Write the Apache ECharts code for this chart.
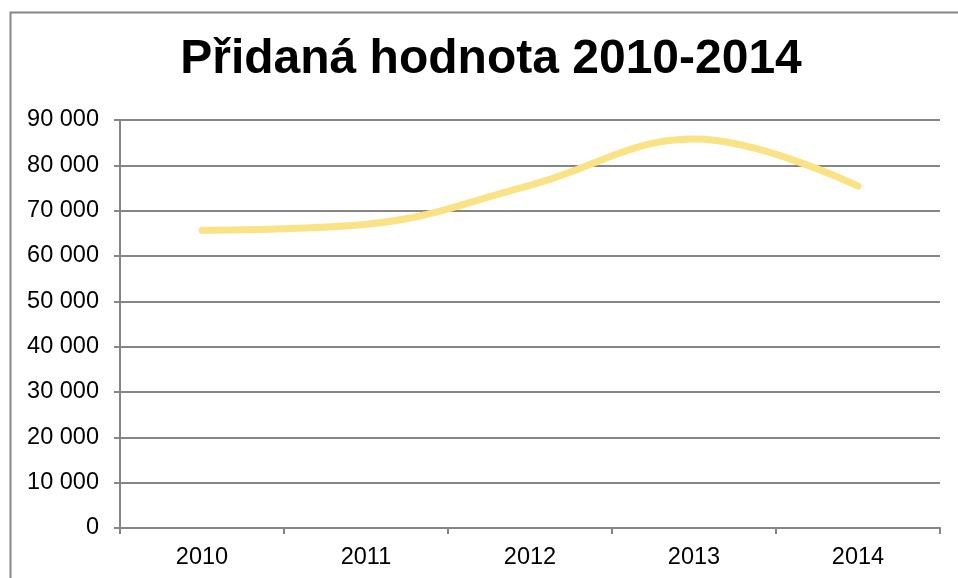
<!DOCTYPE html>
<html>
<head>
<meta charset="utf-8">
<script src="https://cdn.jsdelivr.net/npm/echarts@6/dist/echarts.min.js"></script>
<style>
  html, body { margin: 0; padding: 0; background: #fff; }
  #chart { width: 958px; height: 578px; }
</style>
</head>
<body>
<div id="chart"></div>
<script>
const titleText = 'Přidaná hodnota 2010-2014';
const years = ['2010', '2011', '2012', '2013', '2014'];
const addedValue = [65700, 67000, 75600, 85800, 75400];

const gray = '#868686';
const font = '"Liberation Sans", Arial, sans-serif';

const chart = echarts.init(document.getElementById('chart'));
chart.setOption({
    backgroundColor: '#fff',
    animation: false,
    title: {
        text: titleText,
        left: 486,
        textAlign: 'center',
        top: 31,
        textStyle: {
            fontFamily: font,
            fontSize: 48,
            fontWeight: 'bold',
            color: '#000'
        }
    },
    // outer chart frame
    graphic: [{
        type: 'rect',
        left: 8,
        top: 10,
        shape: {width: 970, height: 600},
        style: {fill: 'none', stroke: gray, lineWidth: 2},
        silent: true
    }],
    grid: {left: 120, right: 18, top: 120, bottom: 50},
    xAxis: {
        type: 'category',
        data: years,
        boundaryGap: true,
        axisLine: {lineStyle: {color: gray, width: 2}},
        axisTick: {show: true, length: 6, lineStyle: {color: gray, width: 2}},
        axisLabel: {margin: 18, color: '#000', fontFamily: font, fontSize: 23.5}
    },
    yAxis: {
        type: 'value',
        min: 0,
        max: 90000,
        interval: 10000,
        axisLine: {show: true, lineStyle: {color: gray, width: 2}},
        axisTick: {show: true, length: 6, lineStyle: {color: gray, width: 2}},
        splitLine: {lineStyle: {color: gray, width: 2}},
        axisLabel: {
            margin: 21,
            color: '#000',
            fontFamily: font,
            fontSize: 23.5,
            formatter: v => String(v).replace(/\B(?=(\d{3})+(?!\d))/g, ' ')
        }
    },
    series: [{
        type: 'line',
        data: addedValue,
        smooth: 0.4,
        showSymbol: false,
        lineStyle: {color: '#F9E384', width: 7, cap: 'round', join: 'round'}
    }]
});
</script>
</body>
</html>
